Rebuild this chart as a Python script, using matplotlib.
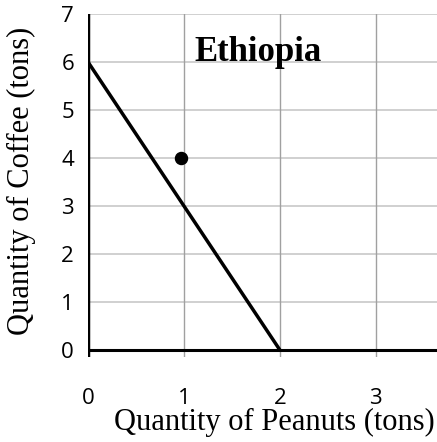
import matplotlib
matplotlib.use("Agg")
import matplotlib.pyplot as plt

# PPF endpoints and the production point
ppf_peanuts = [0, 2]
ppf_coffee = [6, 0]
point_peanuts = [0.97]
point_coffee = [4.0]

x_ticks = [0, 1, 2, 3]
y_ticks = [0, 1, 2, 3, 4, 5, 6, 7]
title = "Ethiopia"
x_label = "Quantity of Peanuts (tons)"
y_label = "Quantity of Coffee (tons)"

SERIF = ["Liberation Serif", "DejaVu Serif"]
plt.rcParams["font.family"] = ["Open Sans", "DejaVu Sans"]

fig = plt.figure(figsize=(4.37, 4.42), dpi=100)
ax = fig.add_axes([0.2014, 0.1923, 0.7986, 0.776])
ax.set_xlim(0, 3.64)
ax.set_ylim(-0.15, 7)

for s in ax.spines.values():
    s.set_visible(False)

# grid
for y in y_ticks[1:]:
    ax.axhline(y, color="#c8c8c8", lw=1.2, zorder=1)
for x in x_ticks[1:]:
    ax.axvline(x, color="#a0a0a0", lw=1.0, zorder=1)

# axes lines
ax.axhline(0, color="black", lw=2.2, zorder=3)
ax.axvline(0, color="black", lw=2.5, zorder=3)

ax.plot(ppf_peanuts, ppf_coffee, color="black", lw=2.5, zorder=4,
        solid_capstyle="butt")
ax.scatter(point_peanuts, point_coffee, s=75, color="black", zorder=5)

ax.set_xticks(x_ticks)
ax.set_yticks(y_ticks)
ax.tick_params(axis="both", length=0, labelsize=16)
ax.tick_params(axis="x", pad=22)
ax.tick_params(axis="y", pad=10)

ax.text(1.11, 6.02, title, family=SERIF, fontweight="bold", fontsize=25,
        va="baseline", ha="left")

fig.text(0.627, 0.012, x_label, family=SERIF, fontsize=22,
         ha="center", va="bottom")
fig.text(0.05, 0.59, y_label, family=SERIF, fontsize=22,
         ha="center", va="center", rotation=90)

fig.savefig("out.png", dpi=100)
